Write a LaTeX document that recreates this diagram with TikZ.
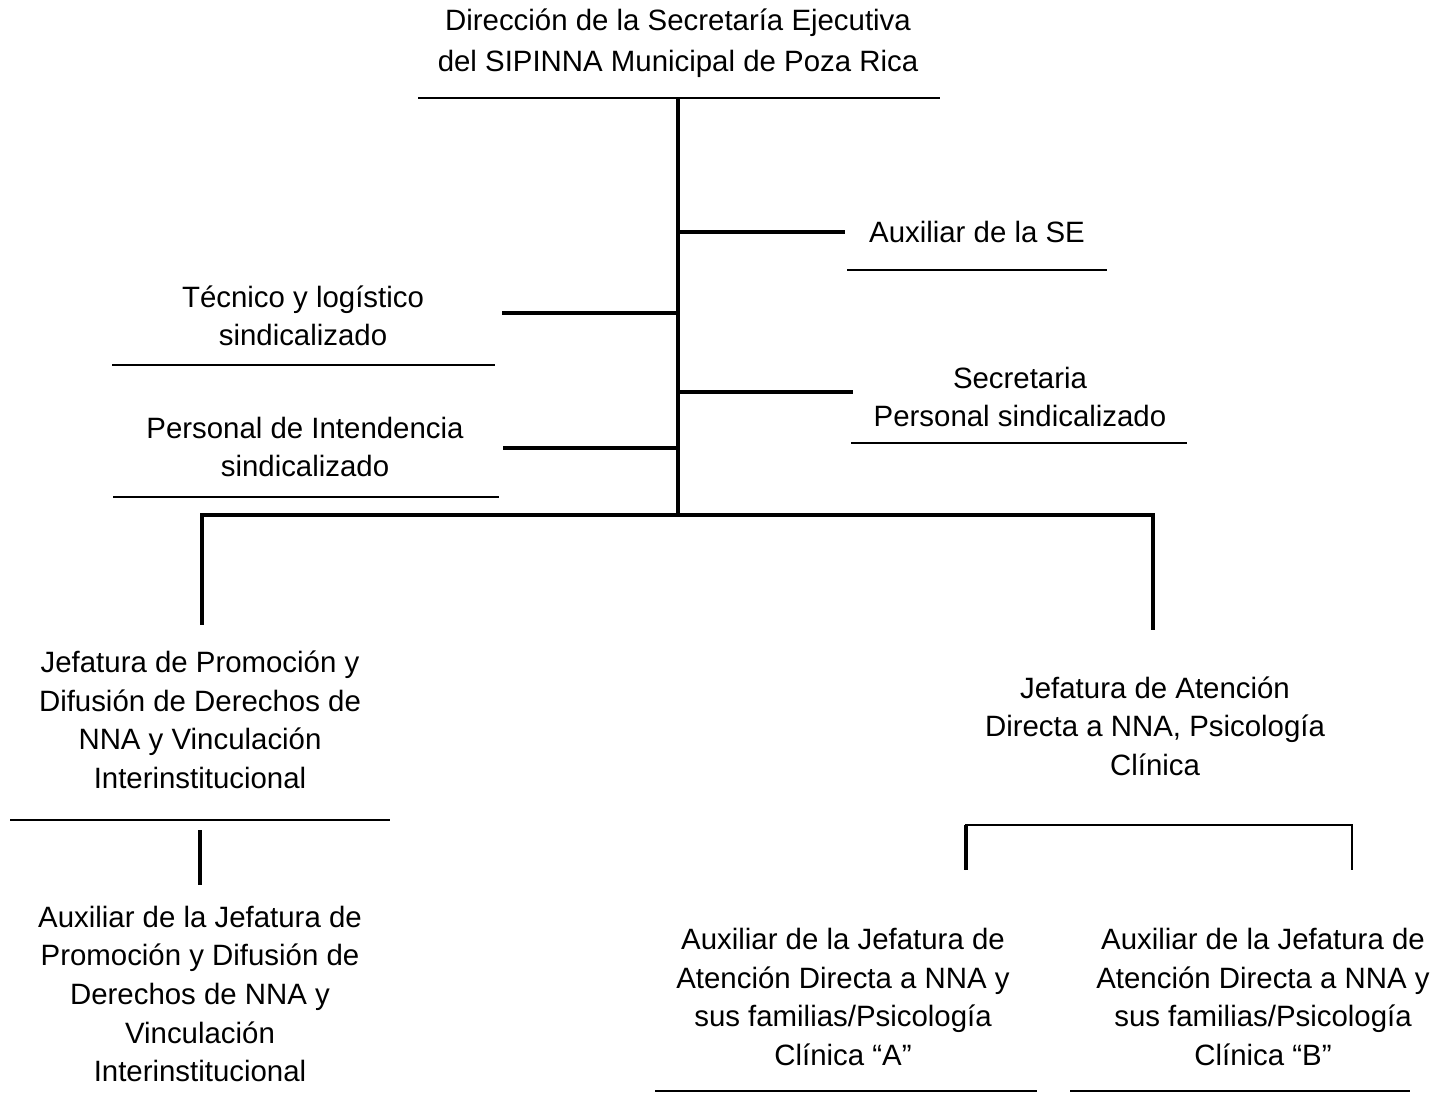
\documentclass[tikz,border=0pt]{standalone}
\usepackage{fontspec}
\setmainfont{Liberation Sans}
\begin{document}
\begin{tikzpicture}[x=0.5pt,y=-0.5pt,
  lbl/.style={align=center,inner sep=0pt,font=\fontsize{14.7}{19.3}\selectfont},
  bar/.style={line width=2pt},
  rule/.style={line width=1pt}]
\useasboundingbox (0,0) rectangle (1442,1096);

\node[lbl,font=\fontsize{14.7}{20.5}\selectfont] (DIR) at (678,43) {Dirección de la Secretaría Ejecutiva\\del SIPINNA Municipal de Poza Rica};
\node[lbl] (AUX) at (977,232) {Auxiliar de la SE};
\node[lbl] (TEC) at (303,316) {Técnico y logístico\\sindicalizado};
\node[lbl] (SEC) at (1020,397) {Secretaria\\Personal sindicalizado};
\node[lbl] (INT) at (305,447) {Personal de Intendencia\\sindicalizado};
\node[lbl] (JP) at (200,720) {Jefatura de Promoción y\\Difusión de Derechos de\\NNA y Vinculación\\Interinstitucional};
\node[lbl] (JA) at (1155,726) {Jefatura de Atención\\Directa a NNA, Psicología\\Clínica};
\node[lbl] (AP) at (200,994) {Auxiliar de la Jefatura de\\Promoción y Difusión de\\Derechos de NNA y\\Vinculación\\Interinstitucional};
\node[lbl] (AA) at (843,997) {Auxiliar de la Jefatura de\\Atención Directa a NNA y\\sus familias/Psicología\\Clínica “A”};
\node[lbl] (AB) at (1263,997) {Auxiliar de la Jefatura de\\Atención Directa a NNA y\\sus familias/Psicología\\Clínica “B”};

% trunk and branches
\coordinate (top) at (678,98);
\coordinate (hub) at (678,515);
\coordinate (b1) at (678,232);  \coordinate (e1) at (845,232);
\coordinate (b2) at (678,313);  \coordinate (e2) at (502,313);
\coordinate (b3) at (678,392);  \coordinate (e3) at (853,392);
\coordinate (b4) at (678,448);  \coordinate (e4) at (503,448);
\coordinate (L) at (202,515);   \coordinate (R) at (1153,515);
\coordinate (Ld) at (202,625);  \coordinate (Rd) at (1153,630);
\coordinate (pt) at (200,830);  \coordinate (pb) at (200,885);
\coordinate (aL) at (966,825);  \coordinate (aR) at (1352,825);
\coordinate (aLd) at (966,870); \coordinate (aRd) at (1352,870);

\path (top) edge[bar] (hub);
\path (b1) edge[bar] (e1);
\path (b2) edge[bar] (e2);
\path (b3) edge[bar] (e3);
\path (b4) edge[bar] (e4);
\draw[line width=2.4pt] (Ld) -- (L) -- (R) -- (Rd);
\path (pt) edge[line width=1.6pt] (pb);
\draw[line width=1.3pt] (aLd) -- (aL) -- (aR) -- (aRd);
\path (aL) edge[line width=2pt] (aLd);

% underlines
\draw[rule] (418,98) -- (940,98);
\draw[rule] (847,270) -- (1107,270);
\draw[rule] (112,365) -- (495,365);
\draw[rule] (851,443) -- (1187,443);
\draw[rule] (113,497) -- (499,497);
\draw[rule] (10,820) -- (390,820);
\draw[rule] (655,1091) -- (1037,1091);
\draw[rule] (1070,1091) -- (1410,1091);
\end{tikzpicture}
\end{document}
